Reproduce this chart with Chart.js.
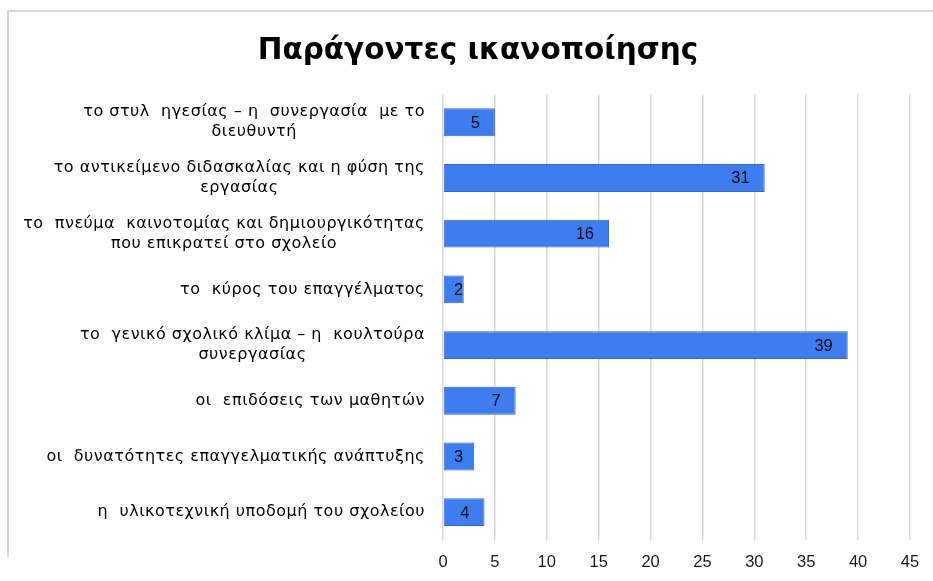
<!DOCTYPE html>
<html>
<head>
<meta charset="utf-8">
<script src="https://cdn.jsdelivr.net/npm/chart.js@4/dist/chart.umd.min.js"></script>
<style>
  html, body { margin: 0; padding: 0; background: #ffffff; }
  #wrap { position: relative; width: 933px; height: 581px; overflow: hidden; }
  #frame { position: absolute; left: 7px; top: 10px; width: 1000px; height: 545px;
           border-top: 2px solid #d6d6d6; border-left: 2px solid #d6d6d6; pointer-events: none; }
  canvas { position: absolute; left: 0; top: 0; }
</style>
</head>
<body>
<div id="wrap">
  <canvas id="c" width="933" height="581"></canvas>
  <div id="frame"></div>
</div>
<script>
const chartTitle = "Παράγοντες ικανοποίησης";
const categories = [
  ["το στυλ  ηγεσίας – η  συνεργασία  με το", "διευθυντή"],
  ["το αντικείμενο διδασκαλίας και η φύση της", "εργασίας"],
  ["το  πνεύμα  καινοτομίας και δημιουργικότητας", "που επικρατεί στο σχολείο"],
  ["το  κύρος του επαγγέλματος"],
  ["το  γενικό σχολικό κλίμα – η  κουλτούρα", "συνεργασίας"],
  ["οι  επιδόσεις των μαθητών"],
  ["οι  δυνατότητες επαγγελματικής ανάπτυξης"],
  ["η  υλικοτεχνική υποδομή του σχολείου"]
];
const values = [5, 31, 16, 2, 39, 7, 3, 4];
const axisMin = 0, axisMax = 45, axisStep = 5;

const labelFont = '16px "DejaVu Sans"';
const labelRight = 425;
const labelLineHeight = 20;

const yLabelPlugin = {
  id: 'yLabels',
  afterDraw(chart) {
    const ctx = chart.ctx;
    const ys = chart.scales.y;
    ctx.save();
    ctx.font = labelFont;
    if ('letterSpacing' in ctx) ctx.letterSpacing = '0.5px';
    ctx.fillStyle = '#000000';
    ctx.textBaseline = 'middle';
    ctx.textAlign = 'center';
    categories.forEach((lines, i) => {
      const cy = ys.getPixelForTick(i);
      const w = Math.max(...lines.map(l => ctx.measureText(l).width));
      const cx = labelRight - w / 2;
      const startY = cy - (lines.length - 1) * labelLineHeight / 2;
      lines.forEach((l, k) => ctx.fillText(l, cx, startY + k * labelLineHeight));
    });
    ctx.restore();
  }
};

const valueLabelPlugin = {
  id: 'valueLabels',
  afterDatasetsDraw(chart) {
    const ctx = chart.ctx;
    const meta = chart.getDatasetMeta(0);
    const xs = chart.scales.x;
    const base = xs.getPixelForValue(0);
    ctx.save();
    ctx.font = '16.5px "Liberation Sans", Arial, sans-serif';
    ctx.fillStyle = '#0a0a0a';
    ctx.textBaseline = 'middle';
    ctx.textAlign = 'right';
    meta.data.forEach((bar, i) => {
      const txt = String(values[i]);
      const w = ctx.measureText(txt).width;
      const right = Math.max(bar.x - 15, base + w + 11);
      ctx.fillText(txt, right, bar.y + 1);
    });
    ctx.restore();
  }
};

new Chart(document.getElementById('c'), {
  type: 'bar',
  data: {
    labels: categories,
    datasets: [{
      data: values,
      backgroundColor: '#3d7def',
      borderColor: '#2e67d6',
      borderWidth: 1,
      borderSkipped: false,
      barPercentage: 0.5,
      categoryPercentage: 1.0
    }]
  },
  plugins: [yLabelPlugin, valueLabelPlugin],
  options: {
    indexAxis: 'y',
    responsive: false,
    animation: false,
    layout: { padding: { left: 46, right: 23, top: 0, bottom: 9 } },
    plugins: {
      legend: { display: false },
      tooltip: { enabled: false },
      title: {
        display: true,
        text: chartTitle,
        color: '#000000',
        font: { family: '"DejaVu Sans"', size: 29.5, weight: 'bold', lineHeight: 1.2 },
        padding: { top: 34, bottom: 25 }
      }
    },
    scales: {
      x: {
        min: axisMin,
        max: axisMax,
        ticks: {
          stepSize: axisStep,
          color: '#1a1a1a',
          padding: 13,
          font: { family: '"Liberation Sans", Arial, sans-serif', size: 16.5 }
        },
        grid: { color: '#d9d9d9', lineWidth: 1.5, drawTicks: false },
        border: { display: false },
        afterFit(scale) { scale.height = 32; }
      },
      y: {
        ticks: { display: false },
        grid: { display: false },
        border: { display: false },
        afterFit(scale) { scale.width = 443 - 46; }
      }
    }
  }
});
</script>
</body>
</html>
